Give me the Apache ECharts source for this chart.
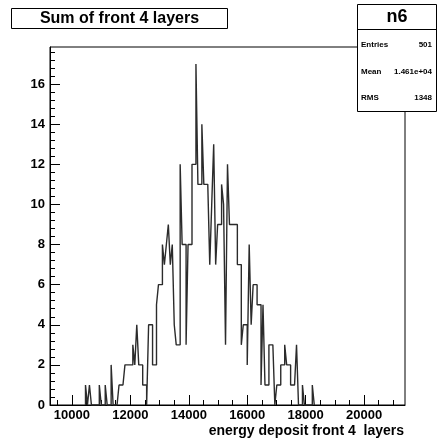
<!DOCTYPE html>
<html><head><meta charset="utf-8">
<script src="https://cdn.jsdelivr.net/npm/echarts@6/dist/echarts.min.js"></script>
<style>html,body{margin:0;padding:0;background:#fff}#c{width:437px;height:440px}</style>
</head><body><div id="c"></div>
<script>
const titleText = 'Sum of front 4 layers';
const histName = 'n6';
const statsLabels = ['Entries', 'Mean', 'RMS'];
const statsValues = ['501', '1.461e+04', '1348'];
const xTitle = 'energy deposit front 4  layers';
const xMin = 9250, xMax = 21400;
const yMin = 0, yMax = 17.85;
const xMajorTicks = [10000, 12000, 14000, 16000, 18000, 20000];
const xMinorTicks = [9500, 10500, 11000, 11500, 12500, 13000, 13500, 14500, 15000, 15500, 16500, 17000, 17500, 18500, 19000, 19500, 20500, 21000];
const yMajorTicks = [0, 2, 4, 6, 8, 10, 12, 14, 16];
const yMinorTicks = [0.4, 0.8, 1.2, 1.6, 2.4, 2.8, 3.2, 3.6, 4.4, 4.8, 5.2, 5.6, 6.4, 6.8, 7.2, 7.6, 8.4, 8.8, 9.2, 9.6, 10.4, 10.8, 11.2, 11.6, 12.4, 12.8, 13.2, 13.6, 14.4, 14.8, 15.2, 15.6, 16.4, 16.8, 17.2, 17.6];
const binStart = 10465;
const binWidth = 67.5;
const counts = [
  1, 0, 1, 0, 0, 0, 0, 1, 0, 0,
  1, 0, 0, 2, 0, 0, 0, 1, 1, 1,
  2, 2, 2, 2, 3, 2, 4, 2, 2, 1,
  1, 0, 4, 4, 2, 2, 5, 6, 6, 8,
  7, 8, 9, 7, 8, 4, 3, 3, 12, 8,
  8, 3, 8, 8, 12, 12, 17, 11, 11, 14,
  11, 11, 11, 7, 10, 13, 7, 9, 9, 11,
  10, 3, 12, 9, 9, 9, 9, 7, 7, 3,
  4, 4, 2, 8, 4, 6, 6, 5, 5, 1,
  5, 1, 1, 3, 3, 3, 0, 1, 1, 2,
  2, 3, 2, 2, 1, 1, 1, 3, 0, 0,
  1, 0, 0, 0, 0, 1
];

const histData = [[binStart, 0]];
counts.forEach((c, i) => histData.push([binStart + i * binWidth, c]));
histData.push([binStart + counts.length * binWidth, 0]);

const FONT = 'Liberation Sans, Arial, Helvetica, sans-serif';
const chart = echarts.init(document.getElementById('c'), null, {renderer: 'canvas'});
const gl = 50, gr = 32, gt = 47, gb = 35;

chart.setOption({
  animation: false,
  backgroundColor: '#fff',
  grid: {left: gl, right: gr, top: gt, bottom: gb, show: true, borderColor: '#000', borderWidth: 1, backgroundColor: 'transparent'},
  xAxis: [
    {type: 'value', min: xMin, max: xMax, position: 'bottom',
     axisLine: {show: true, onZero: false, lineStyle: {color: '#000', width: 1}},
     axisTick: {show: true, inside: true, length: 10, customValues: xMajorTicks, lineStyle: {color: '#000'}},
     axisLabel: {show: true, customValues: xMajorTicks, margin: 4, color: '#000', fontWeight: 'bold', fontSize: 13, fontFamily: FONT,
                 formatter: v => String(v)},
     splitLine: {show: false}},
    {type: 'value', min: xMin, max: xMax, position: 'bottom', gridIndex: 0,
     axisLine: {show: false, onZero: false},
     axisTick: {show: true, inside: true, length: 5, customValues: xMinorTicks, lineStyle: {color: '#000'}},
     axisLabel: {show: false},
     splitLine: {show: false}}
  ],
  yAxis: [
    {type: 'value', min: yMin, max: yMax, position: 'left',
     axisLine: {show: true, onZero: false, lineStyle: {color: '#000', width: 1}},
     axisTick: {show: true, inside: true, length: 10, customValues: yMajorTicks, lineStyle: {color: '#000'}},
     axisLabel: {show: true, customValues: yMajorTicks, margin: 5, color: '#000', fontWeight: 'bold', fontSize: 13, fontFamily: FONT},
     splitLine: {show: false}},
    {type: 'value', min: yMin, max: yMax, position: 'left', gridIndex: 0,
     axisLine: {show: false, onZero: false},
     axisTick: {show: true, inside: true, length: 5, customValues: yMinorTicks, lineStyle: {color: '#000'}},
     axisLabel: {show: false},
     splitLine: {show: false}}
  ],
  series: [{
    type: 'line', xAxisIndex: 0, yAxisIndex: 0, step: 'end', symbol: 'none',
    lineStyle: {color: '#2b2b2b', width: 1.4}, data: histData, z: 3
  }],
  graphic: [
    {type: 'rect', shape: {x: 11.5, y: 8.5, width: 216, height: 20}, style: {fill: '#fff', stroke: '#000', lineWidth: 1}},
    {type: 'text', x: 119.5, y: 18.5, style: {text: titleText, fill: '#000', font: 'bold 16px ' + FONT, textAlign: 'center', textVerticalAlign: 'middle'}},
    {type: 'rect', shape: {x: 357.5, y: 4.5, width: 79, height: 107}, style: {fill: '#fff', stroke: '#000', lineWidth: 1}},
    {type: 'line', shape: {x1: 357.5, y1: 29.5, x2: 437, y2: 29.5}, style: {stroke: '#000', lineWidth: 1}},
    {type: 'text', x: 397, y: 17, style: {text: histName, fill: '#000', font: 'bold 18px ' + FONT, textAlign: 'center', textVerticalAlign: 'middle'}},
    {type: 'text', x: 361, y: 45, style: {text: statsLabels[0], fill: '#000', font: 'bold 8px ' + FONT, textAlign: 'left', textVerticalAlign: 'middle'}},
    {type: 'text', x: 432, y: 45, style: {text: statsValues[0], fill: '#000', font: 'bold 8px ' + FONT, textAlign: 'right', textVerticalAlign: 'middle'}},
    {type: 'text', x: 361, y: 72, style: {text: statsLabels[1], fill: '#000', font: 'bold 8px ' + FONT, textAlign: 'left', textVerticalAlign: 'middle'}},
    {type: 'text', x: 432, y: 72, style: {text: statsValues[1], fill: '#000', font: 'bold 8px ' + FONT, textAlign: 'right', textVerticalAlign: 'middle'}},
    {type: 'text', x: 361, y: 98, style: {text: statsLabels[2], fill: '#000', font: 'bold 8px ' + FONT, textAlign: 'left', textVerticalAlign: 'middle'}},
    {type: 'text', x: 432, y: 98, style: {text: statsValues[2], fill: '#000', font: 'bold 8px ' + FONT, textAlign: 'right', textVerticalAlign: 'middle'}},
    {type: 'text', x: 404, y: 431, style: {text: xTitle, fill: '#000', font: 'bold 14px ' + FONT, textAlign: 'right', textVerticalAlign: 'middle'}}
  ]
});
</script></body></html>
